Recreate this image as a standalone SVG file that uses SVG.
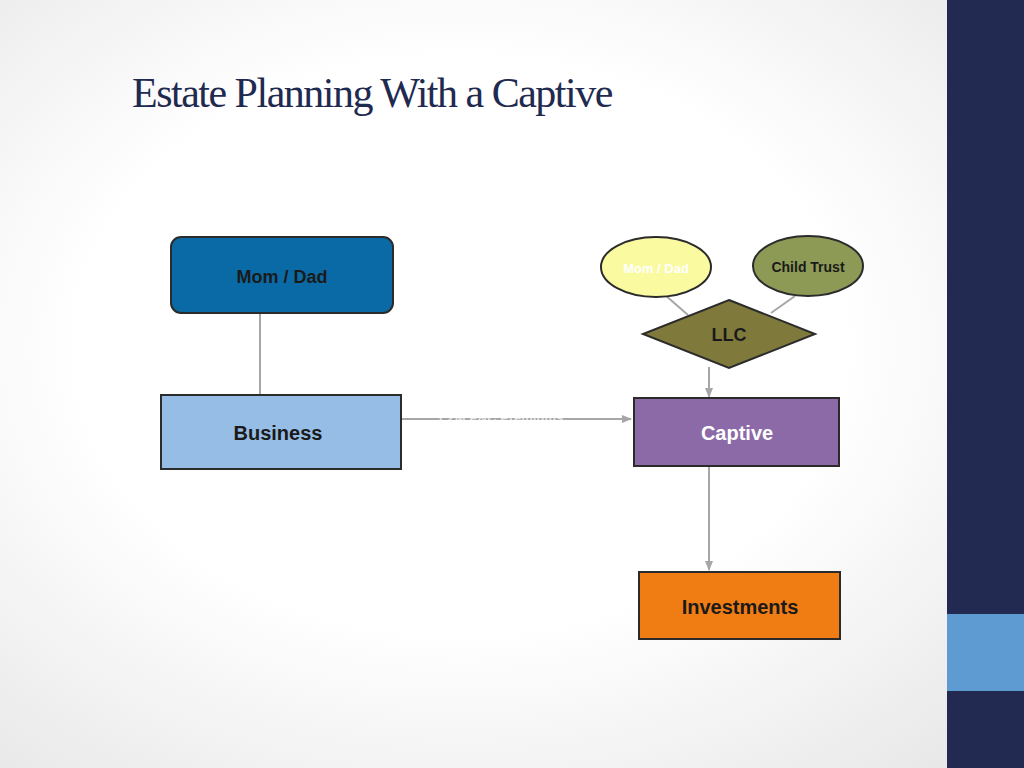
<svg xmlns="http://www.w3.org/2000/svg" width="1024" height="768" viewBox="0 0 1024 768">
<defs>
<radialGradient id="bg" cx="0.45" cy="0.45" r="0.75"><stop offset="0.5" stop-color="#ffffff"/><stop offset="1" stop-color="#e6e6e6"/></radialGradient>
<marker id="ar" markerWidth="10" markerHeight="8" refX="9" refY="4" orient="auto" markerUnits="userSpaceOnUse"><path d="M0,0 L10,4 L0,8 Z" fill="#a6a6a6"/></marker>
</defs>
<style>
.b{stroke:#2b2b2b;stroke-width:2}
.t{font-family:"Liberation Sans",Arial,sans-serif;font-weight:bold;text-anchor:middle}
.c{stroke:#a6a6a6;stroke-width:2;fill:none}
</style>
<rect width="1024" height="768" fill="url(#bg)"/>
<rect x="947" y="0" width="77" height="768" fill="#232a52"/>
<rect x="947" y="614" width="77" height="77" fill="#5f9bd3"/>
<text x="132" y="107" font-family="'Liberation Serif','Times New Roman',serif" font-size="42" fill="#1f2a50" letter-spacing="-1.5">Estate Planning With a Captive</text>
<g id="connectors">
<line class="c" x1="260" y1="313" x2="260" y2="395"/>
<line class="c" x1="401" y1="419" x2="631" y2="419" marker-end="url(#ar)"/>
<text x="500" y="422" class="t" font-size="13" fill="#ffffff" opacity="0.7">1.2M P&amp;C Premiums</text>
<line class="c" x1="665" y1="295" x2="688" y2="315"/>
<line class="c" x1="795" y1="296" x2="771" y2="313"/>
<line class="c" x1="709" y1="367" x2="709" y2="397" marker-end="url(#ar)"/>
<line class="c" x1="709" y1="467" x2="709" y2="570" marker-end="url(#ar)"/>
</g>
<g id="momdad"><rect x="171" y="237" width="222" height="76" rx="10" fill="#0a6aa6" class="b"/><text x="282" y="283" class="t" font-size="18" fill="#1a1a1a">Mom / Dad</text></g>
<g id="business"><rect x="161" y="395" width="240" height="74" fill="#95bde6" class="b"/><text x="278" y="440" class="t" font-size="20" fill="#1a1a1a">Business</text></g>
<g id="momdad2"><ellipse cx="656" cy="267" rx="55" ry="30" fill="#fafaa0" class="b"/><text x="656" y="273" class="t" font-size="13" fill="#ffffff">Mom / Dad</text></g>
<g id="childtrust"><ellipse cx="808" cy="266" rx="55" ry="30" fill="#8c9a55" class="b"/><text x="808" y="272" class="t" font-size="14" fill="#1a1a1a">Child Trust</text></g>
<g id="llc"><polygon points="729,300 815,334 729,368 643,334" fill="#7f7a3c" class="b"/><text x="729" y="341" class="t" font-size="18" fill="#1a1a1a">LLC</text></g>
<g id="captive"><rect x="634" y="398" width="205" height="68" fill="#8c6aa8" class="b"/><text x="737" y="440" class="t" font-size="20" fill="#ffffff">Captive</text></g>
<g id="investments"><rect x="639" y="572" width="201" height="67" fill="#f07c14" class="b"/><text x="740" y="614" class="t" font-size="20" fill="#1a1a1a">Investments</text></g>
</svg>
